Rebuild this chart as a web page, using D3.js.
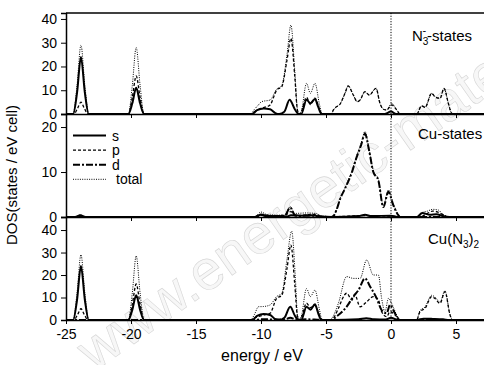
<!DOCTYPE html>
<html>
<head>
<meta charset="utf-8">
<script src="https://cdn.jsdelivr.net/npm/d3@7"></script>
<style>
  body { margin: 0; background: #fff; }
  svg { display: block; font-family: "Liberation Sans", Arial, sans-serif; }
</style>
</head>
<body>
<svg id="chart" width="484" height="365"></svg>
<script>
// energy axis ticks (eV)
const xTicks = [-25, -20, -15, -10, -5, 0, 5];

// N3- states panel: [energy, DOS]
const n3S = [[-25,0],[-24.45,0],[-24.15,9],[-23.85,24],[-23.55,9],[-23.25,0],
  [-20.2,0],[-19.9,4.5],[-19.6,11],[-19.3,4.5],[-19.0,0],
  [-10.7,0],[-10.3,1.6],[-9.8,2.3],[-9.3,2],[-8.9,0.4],[-8.6,0],[-8.2,1],[-7.8,6],[-7.4,2],[-7.1,0],
  [-6.9,0],[-6.5,6],[-6.2,4.5],[-5.85,6.3],[-5.6,3],[-5.35,0],
  [-0.5,0],[0,1],[0.4,0],[7.5,0]];
const n3P = [[-25,0],[-24.4,0],[-24.1,2.5],[-23.85,5],[-23.6,2.5],[-23.3,0],
  [-20.2,0],[-19.9,7],[-19.6,16],[-19.3,7],[-19.0,0],
  [-10.8,0],[-10.5,1],[-10.0,2.4],[-9.6,3],[-9.3,3.8],[-8.8,10],[-8.4,11.5],[-8.0,22.7],[-7.7,31.8],[-7.4,15.7],[-7.2,1.7],[-7.05,0],
  [-6.9,1],[-6.5,7],[-6.2,4],[-5.85,6.7],[-5.5,2],[-5.3,0],
  [-4.6,0],[-4.43,1.7],[-4.2,3],[-3.97,3.8],[-3.54,8.7],[-3.3,11.8],[-2.9,8],[-2.6,5.2],[-2.38,5.9],[-2.0,9.4],[-1.67,8],[-1.15,10.8],[-0.85,4.5],[-0.59,2],[-0.33,1.7],[0.05,3.8],[0.44,1.7],[0.7,0],
  [1.97,0],[2.36,3.4],[2.62,2.8],[3.13,8.7],[3.38,7.3],[3.77,6.6],[4.08,10.8],[4.41,4.5],[4.67,0.3],[4.8,0],[7.5,0]];
const n3Total = [[-25,0],[-24.45,0],[-24.15,12],[-23.85,29],[-23.55,12],[-23.25,0],
  [-20.2,0],[-19.9,12],[-19.6,28],[-19.3,12],[-19.0,0],
  [-10.8,0],[-10.5,2],[-10.2,3.8],[-9.95,5.2],[-9.3,5.9],[-8.8,10.4],[-8.4,12],[-8.0,25],[-7.7,37.4],[-7.4,18],[-7.2,2],[-7.05,0],
  [-6.9,1],[-6.5,12.9],[-6.2,8.7],[-5.85,12.9],[-5.5,4],[-5.3,0],
  [-4.6,0],[-4.43,1.7],[-4.2,3],[-3.97,3.8],[-3.54,8.7],[-3.3,11.8],[-2.9,8],[-2.6,5.2],[-2.38,5.9],[-2.0,9.4],[-1.67,8],[-1.15,10.8],[-0.85,4.5],[-0.59,2],[-0.33,1.7],[0.05,4.5],[0.44,1.7],[0.7,0],
  [1.97,0],[2.36,3.4],[2.62,2.8],[3.13,8.7],[3.38,7.3],[3.77,6.6],[4.08,10.8],[4.41,4.5],[4.67,0.3],[4.8,0],[7.5,0]];

// Cu states panel
const cuS = [[-25,0],[-24.3,0],[-23.9,0.4],[-23.5,0],[-10.5,0],[-10,0.5],[-9.5,0.2],[-8,0.1],[-7.7,0.4],[-6.5,0.3],[-6,0.4],[-5.5,0.1],[-4.5,0],
  [-2.5,0.2],[-2,0.5],[-1.5,0.2],[0,0.3],[0.5,0],[2,0],[2.4,0.9],[3,0.5],[3.5,0.6],[4,0.2],[4.5,0],[7.5,0]];
const cuP = [[-25,0],[-10.5,0],[-10,0.6],[-9,0.2],[-8.1,0.5],[-7.7,1.2],[-7.3,0.3],[-6.5,0.5],[-5.8,0.6],[-5.3,0],[-4,0.1],[-2,0.3],[0,0.2],[0.5,0],
  [2.2,0],[2.8,0.8],[3.2,1.3],[3.6,1.1],[4,0.5],[4.4,0],[7.5,0]];
const cuD = [[-25,0],[-10.3,0],[-10,0.5],[-9.5,0.2],[-8.2,0.2],[-7.75,2.1],[-7.4,0.4],[-7,0.2],[-6.5,0.4],[-5.5,0.1],[-4.6,0],
  [-4.4,0.3],[-4.2,1.5],[-3.9,4.1],[-3.54,6.3],[-3.0,10],[-2.64,13.3],[-2.3,16],[-2.0,18.5],[-1.7,15],[-1.36,10],[-0.97,8.1],[-0.59,2.2],[-0.2,5.6],[0.18,2.6],[0.56,0.4],[0.7,0],[7.5,0]];
const cuTotal = [[-25,0],[-24.3,0],[-23.9,0.5],[-23.5,0],[-10.5,0],[-10,1.1],[-9.5,0.5],[-8.2,0.4],[-7.75,2.3],[-7.4,0.8],[-6.5,0.9],[-5.8,0.8],[-5.3,0.2],[-4.6,0.1],
  [-4.4,0.4],[-4.2,1.6],[-3.9,4.2],[-3.54,6.5],[-3.0,10.3],[-2.64,13.6],[-2.3,16.4],[-2.0,19],[-1.7,15.3],[-1.36,10.3],[-0.97,8.4],[-0.59,2.5],[-0.2,6],[0.18,3],[0.56,0.5],[0.8,0],
  [2,0],[2.4,1],[2.8,1.3],[3.2,1.7],[3.6,1.6],[4,0.6],[4.5,0],[7.5,0]];

// Cu(N3)2 panel
const allS = [[-25,0],[-24.45,0],[-24.15,9],[-23.85,24],[-23.55,9],[-23.25,0],
  [-20.2,0],[-19.9,4.5],[-19.6,11],[-19.3,4.5],[-19.0,0],
  [-10.7,0],[-10.3,1.8],[-9.8,2.7],[-9.3,2.2],[-8.9,0.4],[-8.6,0],[-8.2,1],[-7.75,5.9],[-7.4,2],[-7.1,0],
  [-6.9,0],[-6.5,5.9],[-6.2,4.6],[-5.85,7],[-5.6,3],[-5.35,0],
  [-4.5,0],[-2.5,0.3],[-1.9,0.8],[-1.3,0.3],[-0.4,0.2],[0,1],[0.4,0.2],[0.7,0],[2,0],[2.5,0.6],[3.2,0.5],[4,0.3],[4.5,0],[7.5,0]];
const allP = [[-25,0],[-24.4,0],[-24.1,2.5],[-23.85,5],[-23.6,2.5],[-23.3,0],
  [-20.2,0],[-19.9,7],[-19.6,16],[-19.3,7],[-19.0,0],
  [-10.8,0],[-10.5,1],[-10.2,1.5],[-9.6,2.5],[-9.3,3],[-8.8,9.6],[-8.4,11],[-8.0,23],[-7.7,33.3],[-7.4,15.6],[-7.2,1.7],[-7.05,0],
  [-6.9,1],[-6.5,7.5],[-6.2,5.5],[-5.85,6.5],[-5.5,2],[-5.3,0],
  [-4.6,0],[-4.3,2],[-4.05,5.2],[-3.41,11.9],[-3.0,8.9],[-2.77,11.1],[-2.38,5.9],[-1.87,8.1],[-1.36,10.4],[-0.97,8.9],[-0.72,3.7],[-0.33,1.5],[-0.08,3.7],[0.44,1.5],[0.7,0],
  [1.97,0],[2.23,3.7],[2.62,5.2],[3.13,10.4],[3.38,9.6],[3.77,7.4],[4.15,12.6],[4.54,2.2],[4.7,0],[7.5,0]];
const allD = [[-25,0],[-10.5,0],[-10,0.3],[-8.2,0.2],[-7.75,1],[-7.3,0.2],[-6.5,0.3],[-5.5,0.1],[-4.6,0],
  [-4.2,1.5],[-3.41,5.9],[-2.9,10.4],[-2.5,13.3],[-2.0,18.5],[-1.6,14.8],[-1.1,9.6],[-0.72,4.4],[-0.33,3],[-0.08,6.7],[0.3,3],[0.7,0],[7.5,0]];
const allTotal = [[-25,0],[-24.45,0],[-24.15,12],[-23.85,29],[-23.55,12],[-23.25,0],
  [-20.2,0],[-19.9,12],[-19.6,28.5],[-19.3,12],[-19.0,0],
  [-10.8,0],[-10.5,2.5],[-10.2,5.9],[-9.8,6],[-9.3,6.7],[-8.8,10.4],[-8.4,11.9],[-8.0,27],[-7.64,39.5],[-7.35,18],[-7.2,2.5],[-7.05,0],
  [-6.9,1.5],[-6.5,14],[-6.2,10.4],[-5.85,13.3],[-5.5,4.5],[-5.3,0],
  [-4.7,0],[-4.56,0.7],[-4.05,7.4],[-3.41,19.3],[-2.9,18.5],[-2.38,18.5],[-1.87,26.7],[-1.36,20],[-0.97,20],[-0.72,9.6],[-0.46,3.7],[-0.2,9.6],[0.05,7.4],[0.44,2.2],[0.7,0],
  [1.97,0],[2.23,4.2],[2.62,5.8],[3.13,11],[3.38,10.2],[3.77,8],[4.15,13],[4.54,2.5],[4.75,0],[7.5,0]];

const legendNames = ['s', 'p', 'd', 'total'];

const panels = [
  { name: 'n3', yMax: 42.5, yTicks: [0, 10, 20, 30, 40], top: 13, bottom: 114,
    series: [['total', n3Total], ['p', n3P], ['s', n3S]] },
  { name: 'cu', yMax: 22.9, yTicks: [0, 10, 20], top: 114, bottom: 217,
    series: [['total', cuTotal], ['p', cuP], ['d', cuD], ['s', cuS]] },
  { name: 'all', yMax: 45.8, yTicks: [0, 10, 20, 30, 40], top: 217, bottom: 320,
    series: [['total', allTotal], ['p', allP], ['d', allD], ['s', allS]] }
];

// line style per orbital
const styles = {
  s: { w: 2, dash: null },
  p: { w: 1.3, dash: '3,2' },
  d: { w: 2, dash: '7,2,2,2' },
  total: { w: 1, dash: '1,1.3' }
};

const svg = d3.select('#chart');
const left = 66;
const x = d3.scaleLinear().domain([-25, 7.5]).range([left, left + 32.5 * 13]);
const fmtE = d => d < 0 ? '-' + Math.abs(d) : String(d);

// faint watermark behind the chart
svg.append('text')
  .attr('transform', 'translate(94,372) rotate(-35)')
  .attr('font-size', 56)
  .attr('fill', '#f7f7f7')
  .attr('stroke', '#d6d6d6')
  .attr('stroke-width', 0.6)
  .text('www.energetic-materials.org.cn');

panels.forEach((p, i) => {
  const y = d3.scaleLinear().domain([0, p.yMax]).range([p.bottom, p.top]);
  const g = svg.append('g');
  const last = i === panels.length - 1;

  svg.append('clipPath').attr('id', 'clip' + i)
    .append('rect').attr('x', left).attr('y', p.top).attr('width', 440).attr('height', p.bottom - p.top);

  const line = d3.line()
    .x(d => x(d[0]))
    .y(d => y(d[1]))
    .curve(d3.curveMonotoneX);

  p.series.forEach(([key, data]) => {
    g.append('path')
      .datum(data)
      .attr('clip-path', `url(#clip${i})`)
      .attr('fill', 'none')
      .attr('stroke', '#000')
      .attr('stroke-width', styles[key].w)
      .attr('stroke-dasharray', styles[key].dash)
      .attr('d', line);
  });

  // y axis
  const ya = g.append('g')
    .attr('transform', `translate(${left},0)`)
    .call(d3.axisLeft(y).tickValues(p.yTicks).tickSize(5).tickPadding(4).tickFormat(d3.format('d')));
  ya.select('.domain').attr('stroke-width', 1.5);
  ya.selectAll('text').attr('font-size', 14).attr('fill', '#000').attr('font-family', '"Liberation Sans", Arial, sans-serif');

  // x axis along the bottom of each panel, labels only on the last one
  const xa = g.append('g')
    .attr('transform', `translate(0,${p.bottom})`)
    .call(d3.axisBottom(x).tickValues(xTicks).tickSize(4).tickSizeOuter(0)
      .tickFormat(last ? fmtE : () => ''));
  xa.select('.domain').attr('stroke-width', 1.5);
  xa.selectAll('text').attr('font-size', 14).attr('fill', '#000').attr('dy', '0.85em')
    .attr('font-family', '"Liberation Sans", Arial, sans-serif');
});

// top frame line
svg.append('line')
  .attr('x1', left).attr('x2', 484).attr('y1', 13).attr('y2', 13)
  .attr('stroke', '#000').attr('stroke-width', 1.5);

// Fermi level
svg.append('line')
  .attr('x1', x(0)).attr('x2', x(0)).attr('y1', 13).attr('y2', 320)
  .attr('stroke', '#000').attr('stroke-width', 1).attr('stroke-dasharray', '1.2,1.5');

// panel titles
const t1 = svg.append('text').attr('x', 412).attr('y', 41).attr('font-size', 15);
t1.append('tspan').text('N');
t1.append('tspan').attr('font-size', 10).attr('dy', 4).text('3');
t1.append('tspan').attr('font-size', 11).attr('dx', -6).attr('dy', -11).text('-');
t1.append('tspan').attr('dy', 7).attr('dx', 1).text('-states');

svg.append('text').attr('x', 418).attr('y', 139).attr('font-size', 15).text('Cu-states');

const t3 = svg.append('text').attr('x', 428).attr('y', 244).attr('font-size', 15);
t3.append('tspan').text('Cu(N');
t3.append('tspan').attr('font-size', 10).attr('dy', 4).text('3');
t3.append('tspan').attr('dy', -4).text(')');
t3.append('tspan').attr('font-size', 10).attr('dy', 4).text('2');

// legend in the Cu panel
const leg = svg.append('g');
legendNames.forEach((n, k) => {
  const ly = 135.5 + k * 14.6;
  leg.append('line')
    .attr('x1', 73).attr('x2', 106).attr('y1', ly).attr('y2', ly)
    .attr('stroke', '#000')
    .attr('stroke-width', styles[n].w)
    .attr('stroke-dasharray', styles[n].dash);
  leg.append('text')
    .attr('x', n === 'total' ? 116 : 112).attr('y', ly + 5)
    .attr('font-size', 14).text(n);
});

// axis titles
svg.append('text')
  .attr('x', 262).attr('y', 361)
  .attr('text-anchor', 'middle').attr('font-size', 16)
  .text('energy / eV');

svg.append('text')
  .attr('transform', 'translate(17,175) rotate(-90)')
  .attr('text-anchor', 'middle').attr('font-size', 15)
  .text('DOS(states / eV cell)');
</script>
</body>
</html>
